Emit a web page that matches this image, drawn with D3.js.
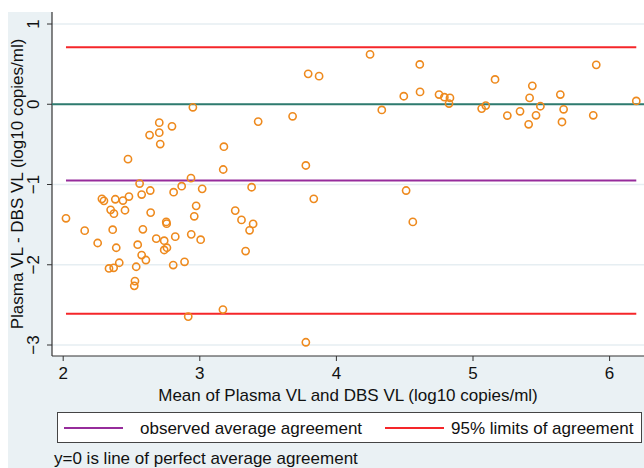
<!DOCTYPE html>
<html>
<head>
<meta charset="utf-8">
<script src="https://cdn.jsdelivr.net/npm/d3@7"></script>
<style>
  body { margin: 0; background: #fff; }
  text { font-family: "Liberation Sans", Arial, sans-serif; fill: #111; }
</style>
</head>
<body>
<div id="chart"></div>
<script>
// mean of the two measures (x) and their difference (y)
const meanVals = [2.478, 2.939, 2.563, 2.871, 2.812, 3.021, 2.287, 2.302, 2.385, 2.441,
                  2.485, 2.578, 2.641, 2.351, 2.375, 2.456, 2.644, 2.977, 2.963, 2.024,
                  2.758, 2.761, 2.161, 2.366, 2.587, 2.685, 2.743, 2.824, 2.941, 3.010,
                  2.256, 2.392, 2.549, 2.763, 2.743, 2.578, 2.609, 2.414, 2.373, 2.339,
                  2.538, 2.809, 2.892, 2.529, 2.524, 2.919,
                  2.953, 2.707, 2.636, 2.707, 2.800, 2.714,
                  3.431, 3.683, 3.180, 3.175, 3.780, 3.383, 3.838, 3.263, 3.309, 3.394,
                  3.368, 3.339, 3.173,
                  4.250, 4.614, 3.797, 3.877, 4.497, 4.616, 4.755, 4.794, 4.835, 4.828,
                  4.336, 4.514, 4.563, 3.780,
                  5.906, 5.165, 5.438, 5.643, 5.418, 6.199, 5.097, 5.067, 5.497, 5.667,
                  5.348, 5.255, 5.465, 5.884, 5.655, 5.411];
const diffVals = [-0.684, -0.921, -0.988, -1.021, -1.096, -1.054, -1.179, -1.204, -1.184, -1.200,
                  -1.150, -1.125, -1.075, -1.316, -1.363, -1.321, -1.350, -1.266, -1.396, -1.421,
                  -1.466, -1.488, -1.575, -1.563, -1.559, -1.675, -1.700, -1.650, -1.621, -1.688,
                  -1.729, -1.788, -1.750, -1.788, -1.816, -1.879, -1.941, -1.975, -2.038, -2.046,
                  -2.025, -2.004, -1.963, -2.204, -2.263, -2.646,
                  -0.038, -0.229, -0.384, -0.354, -0.275, -0.496,
                  -0.216, -0.150, -0.529, -0.813, -0.763, -1.034, -1.179, -1.325, -1.441, -1.491,
                  -1.571, -1.829, -2.559,
                  0.621, 0.496, 0.379, 0.350, 0.100, 0.154, 0.121, 0.088, 0.079, 0.009,
                  -0.071, -1.075, -1.466, -2.966,
                  0.491, 0.309, 0.229, 0.121, 0.079, 0.041, -0.016, -0.054, -0.025, -0.063,
                  -0.088, -0.141, -0.138, -0.138, -0.221, -0.250];

const xTicks = [2, 3, 4, 5, 6];
const yTicks = [1, 0, -1, -2, -3];

const meanDiff = -0.95;
const limits = [0.71, -2.61];

const legendLabels = ["observed average agreement", "95% limits of agreement"];
const legendColors = ["#962c9b", "#f5262a"];

const width = 644, height = 468;
const plot = { left: 52, right: 644, top: 12, bottom: 356 };
const fontSize = "17px";

const svg = d3.select("#chart").append("svg")
    .attr("width", width)
    .attr("height", height);

// stata style background
svg.append("rect")
    .attr("x", 8).attr("y", 12)
    .attr("width", width - 8).attr("height", height - 12)
    .attr("fill", "#eaf1f4");
svg.append("rect")
    .attr("x", plot.left).attr("y", plot.top)
    .attr("width", plot.right - plot.left).attr("height", plot.bottom - plot.top)
    .attr("fill", "#fff");

const xScale = d3.scaleLinear().domain([2, 6]).range([62.7, 609.1]);
const yScale = d3.scaleLinear().domain([1, -3]).range([24, 345]);

// grid
svg.append("g").selectAll("line")
    .data(yTicks)
    .join("line")
    .attr("x1", plot.left).attr("x2", plot.right)
    .attr("y1", d => yScale(d)).attr("y2", d => yScale(d))
    .attr("stroke", "#e6eef2")
    .attr("stroke-width", 1.5);

// axes
const xAxis = d3.axisBottom(xScale).tickValues(xTicks).tickSize(5).tickPadding(6)
    .tickFormat(d3.format("d"));
const yAxis = d3.axisLeft(yScale).tickValues(yTicks).tickSize(5).tickFormat(d3.format("d"));

const gx = svg.append("g")
    .attr("transform", "translate(0," + plot.bottom + ")")
    .call(xAxis);
gx.select(".domain").attr("d", "M" + plot.left + ",0H" + plot.right);
gx.selectAll("line").attr("stroke", "#333");
gx.selectAll(".domain").attr("stroke", "#333").attr("stroke-width", 1.2);
gx.selectAll("text")
    .attr("font-size", fontSize)
    .attr("font-family", "Liberation Sans, Arial, sans-serif")
    .attr("fill", "#111");

const gy = svg.append("g")
    .attr("transform", "translate(" + plot.left + ",0)")
    .call(yAxis);
gy.select(".domain").attr("d", "M0," + plot.top + "V" + plot.bottom);
gy.selectAll("line").attr("stroke", "#333");
gy.selectAll(".domain").attr("stroke", "#333").attr("stroke-width", 1.2);
gy.selectAll("text")
    .attr("x", null).attr("dy", null)
    .attr("transform", d => "translate(-13," + yScale(d) + ") rotate(-90)")
    .attr("y", null)
    .style("text-anchor", "middle")
    .attr("font-size", fontSize)
    .attr("font-family", "Liberation Sans, Arial, sans-serif")
    .attr("fill", "#111");
gy.selectAll(".tick").attr("transform", null);
gy.selectAll(".tick line")
    .attr("y1", d => yScale(d)).attr("y2", d => yScale(d));

// axis titles
svg.append("text")
    .attr("transform", "translate(23," + ((plot.top + plot.bottom) / 2) + ") rotate(-90)")
    .style("text-anchor", "middle")
    .attr("font-size", fontSize)
    .text("Plasma VL - DBS VL (log10 copies/ml)");

svg.append("text")
    .attr("x", (plot.left + plot.right) / 2)
    .attr("y", 401)
    .style("text-anchor", "middle")
    .attr("font-size", fontSize)
    .text("Mean of Plasma VL and DBS VL (log10 copies/ml)");

// reference lines, spanning the range of the data
const xExt = d3.extent(meanVals);
const refLines = [
    { v: 0, color: "#2f7b6f" },
    { v: meanDiff, color: legendColors[0] },
    { v: limits[0], color: legendColors[1] },
    { v: limits[1], color: legendColors[1] }
];
svg.append("g").selectAll("line")
    .data(refLines)
    .join("line")
    .attr("x1", d => d.v === 0 ? plot.left : xScale(xExt[0]))
    .attr("x2", d => d.v === 0 ? plot.right : xScale(xExt[1]))
    .attr("y1", d => yScale(d.v)).attr("y2", d => yScale(d.v))
    .attr("stroke", d => d.color)
    .attr("stroke-width", 2);

// points
const points = meanVals.map((m, i) => ({ x: m, y: diffVals[i] }));
svg.append("g").selectAll("circle")
    .data(points)
    .join("circle")
    .attr("cx", d => xScale(d.x))
    .attr("cy", d => yScale(d.y))
    .attr("r", 3.6)
    .attr("fill", "none")
    .attr("stroke", "#ee8a1e")
    .attr("stroke-width", 1.6);

// legend
const legend = svg.append("g");
legend.append("rect")
    .attr("x", 57.5).attr("y", 412.5)
    .attr("width", 584).attr("height", 30)
    .attr("fill", "#fff")
    .attr("stroke", "#444")
    .attr("stroke-width", 1);
const legendX = [64, 385];
legendLabels.forEach((lab, i) => {
    legend.append("line")
        .attr("x1", legendX[i]).attr("x2", legendX[i] + 59)
        .attr("y1", 428).attr("y2", 428)
        .attr("stroke", legendColors[i])
        .attr("stroke-width", 2);
    legend.append("text")
        .attr("x", legendX[i] + (i === 0 ? 76 : 66))
        .attr("y", 434)
        .attr("font-size", fontSize)
        .text(lab);
});

svg.append("text")
    .attr("x", 54)
    .attr("y", 464)
    .attr("font-size", fontSize)
    .text("y=0 is line of perfect average agreement");
</script>
</body>
</html>
